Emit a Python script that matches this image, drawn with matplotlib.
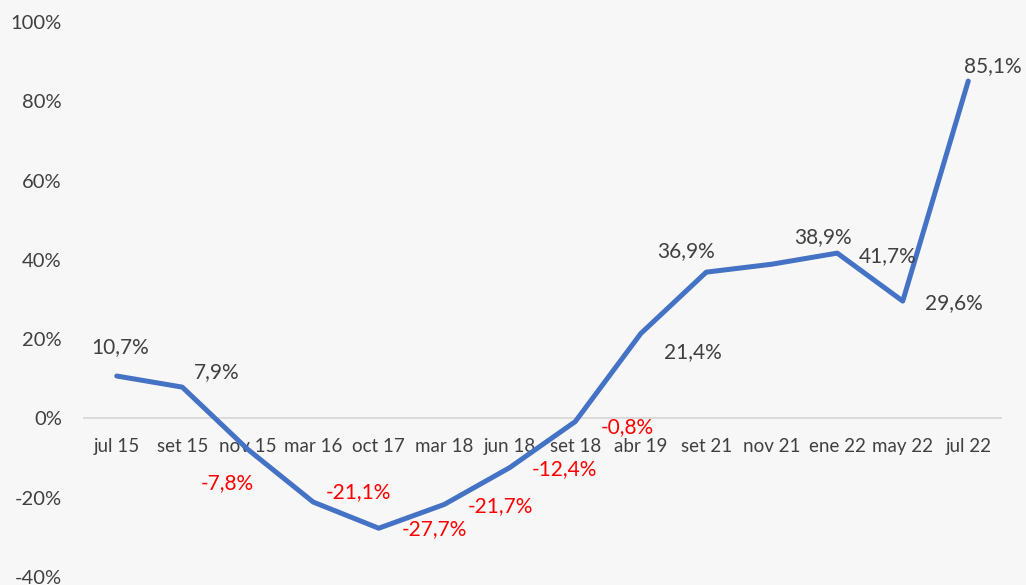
import matplotlib
matplotlib.use("Agg")
import matplotlib.pyplot as plt
from matplotlib.ticker import FuncFormatter

categories = ["jul 15", "set 15", "nov 15", "mar 16", "oct 17", "mar 18", "jun 18",
              "set 18", "abr 19", "set 21", "nov 21", "ene 22", "may 22", "jul 22"]
values = [10.7, 7.9, -7.8, -21.1, -27.7, -21.7, -12.4, -0.8, 21.4, 36.9, 38.9, 41.7, 29.6, 85.1]
labels = ["10,7%", "7,9%", "-7,8%", "-21,1%", "-27,7%", "-21,7%", "-12,4%", "-0,8%",
          "21,4%", "36,9%", "38,9%", "41,7%", "29,6%", "85,1%"]
# label offsets in pixels (dx, dy downward positive)
offsets = [(3, -29), (34, -15), (-20, 34), (45, -10), (56, 1), (56, 2), (55, 2), (52, 5),
           (52, 19), (-20, -21), (51, -27), (50, 3), (51, 2), (25, -15)]

plt.rcParams['font.family'] = ['Lato', 'DejaVu Sans']
bg = "#F7F7F7"
fig = plt.figure(figsize=(10.26, 5.85), dpi=100, facecolor=bg)
ax = fig.add_axes([84/1026, 8/585, (1001-84)/1026, (577-22)/585], facecolor=bg)

x = list(range(len(categories)))
ax.plot(x, values, color="#4472C4", lw=3.6, solid_joinstyle='round', solid_capstyle='round', zorder=3)

for xi, v, lab, (dx, dy) in zip(x, values, labels, offsets):
    col = "#FF0000" if v < 0 else "#404040"
    ax.annotate(lab, (xi, v), xytext=(dx * 0.72, -dy * 0.72), textcoords='offset points',
                ha='center', va='center', fontsize=15, color=col, zorder=4)

ax.set_xlim(-0.5, len(categories) - 0.5)
ax.set_ylim(-40, 100)
ax.set_yticks([-40, -20, 0, 20, 40, 60, 80, 100])
ax.yaxis.set_major_formatter(FuncFormatter(lambda v, p: f"{int(v)}%"))
ax.set_xticks(x)
ax.set_xticklabels(categories)

for s in ["top", "right", "left"]:
    ax.spines[s].set_visible(False)
ax.spines["bottom"].set_position(("data", 0))
ax.spines["bottom"].set_color("#D9D9D9")
ax.spines["bottom"].set_linewidth(1.3)

ax.tick_params(axis='x', length=0, pad=14, labelsize=13.5, colors="#404040")
ax.tick_params(axis='y', length=0, pad=16, labelsize=14.5, colors="#404040")

fig.savefig("out.png", dpi=100, facecolor=bg)
